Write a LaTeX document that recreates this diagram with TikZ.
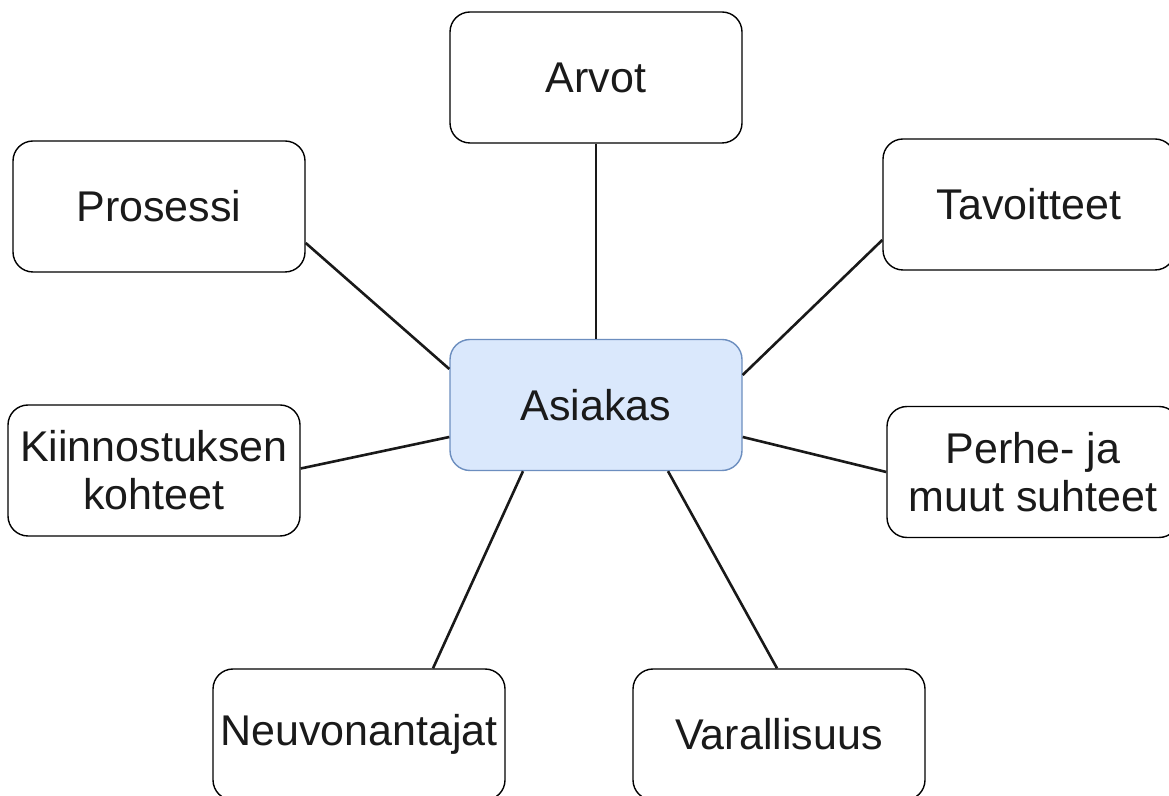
\documentclass[tikz,border=0pt]{standalone}
\usepackage{fontspec}
\setmainfont{Liberation Sans}
\definecolor{blfill}{HTML}{DAE8FC}
\definecolor{bldraw}{HTML}{6C8EBF}
\definecolor{txt}{HTML}{1A1A1A}
\begin{document}
\begin{tikzpicture}[x=1pt,y=1pt,
  box/.style={draw=black, line width=1.4pt, rounded corners=20pt, fill=white,
    minimum width=292pt, minimum height=131pt, inner sep=0pt, align=center,
    text=txt, font=\fontsize{43}{48}\selectfont},
  centerbox/.style={box, fill=blfill, draw=bldraw},
  link/.style={line width=2.6pt, draw=black!90}]
\clip (0,0) rectangle (1169,795);
\fill[white] (0,0) rectangle (1169,795);
\node[box] (ar) at (596,717.5) {Arvot};
\node[box] (pr) at (159,588.5) {Prosessi};
\node[box] (ta) at (1029,590.5) {Tavoitteet};
\node[centerbox] (as) at (596,390) {Asiakas};
\node[box] (ki) at (154,324.5) {Kiinnostuksen\\kohteet};
\node[box] (pe) at (1033,323) {Perhe- ja\\muut suhteet};
\node[box] (ne) at (359,60.5) {Neuvonantajat};
\node[box] (va) at (779,60.5) {Varallisuus};
\draw[link] (ar.south) -- (as.north);
\draw[link] ([yshift=-36.5pt]pr.east) -- ([yshift=36pt]as.west);
\draw[link] ([yshift=-35.5pt]ta.west) -- ([yshift=30pt]as.east);
\draw[link] ([yshift=2pt]ki.east) -- ([yshift=-32pt]as.west);
\draw[link] ([yshift=-32pt]as.east) -- (pe.west);
\draw[link] ([xshift=-73pt]as.south) -- ([xshift=74pt]ne.north);
\draw[link] ([xshift=72pt]as.south) -- ([xshift=-2pt]va.north);
\end{tikzpicture}
\end{document}
